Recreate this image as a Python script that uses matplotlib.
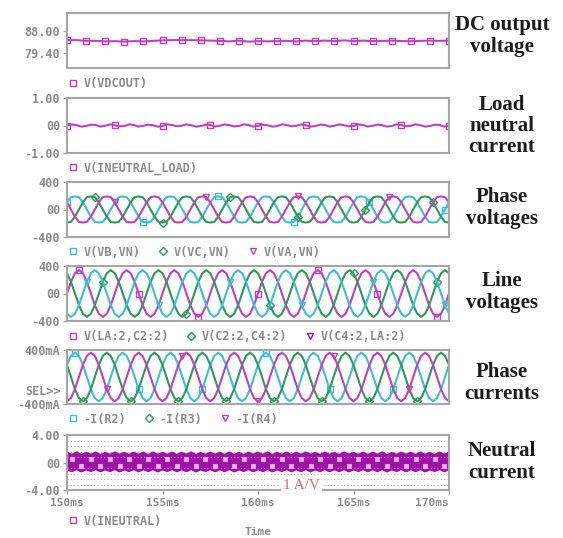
import numpy as np
import matplotlib
matplotlib.use("Agg")
import matplotlib.pyplot as plt
from matplotlib.lines import Line2D

plt.rcParams['font.family'] = 'DejaVu Sans Mono'
plt.rcParams['font.weight'] = 'bold'

# ---- data ----
t_wave = np.linspace(150, 170, 97)   # ms, 12 samples per 400 Hz period
t_fine = np.linspace(150, 170, 81)   # ms, 0.25 ms step
t_dc = np.linspace(150, 170, 41)     # ms, 0.5 ms step

dc_vout = [84.4, 84.4, 84.1, 84.1, 83.9, 84.0, 83.8, 84.0, 83.9, 84.1,
           84.3, 84.4, 84.4, 84.4, 84.3, 84.2, 84.1, 83.9, 84.2, 83.8,
           84.0, 83.9, 84.0, 84.1, 83.9, 84.2, 84.0, 84.2, 84.0, 84.3,
           84.0, 84.2, 84.0, 84.1, 84.2, 84.0, 84.0, 84.1, 84.2, 84.1,
           84.2]

load_neutral = [0.00, 0.04, 0.01, -0.04, -0.02, 0.03, 0.02, -0.04, -0.01, 0.04,
                0.01, -0.03, -0.02, 0.04, 0.02, -0.04, -0.01, 0.03, 0.01, -0.04,
                -0.02, 0.04, 0.02, -0.03, -0.01, 0.04, 0.01, -0.04, -0.02, 0.03,
                0.02, -0.04, -0.01, 0.04, 0.01, -0.03, -0.02, 0.04, 0.02, -0.04,
                -0.01, 0.03, 0.01, -0.04, -0.02, 0.04, 0.02, -0.03, -0.01, 0.04,
                0.01, -0.04, -0.02, 0.03, 0.02, -0.04, -0.01, 0.04, 0.01, -0.03,
                -0.02, 0.04, 0.02, -0.04, -0.01, 0.03, 0.01, -0.04, -0.02, 0.04,
                0.02, -0.03, -0.01, 0.04, 0.01, -0.04, -0.02, 0.03, 0.02, -0.04,
                0.00]

# phase voltages (V)
v_phase_1 = [105, 180, 190, 180, 105, 0, -105, -180, -190, -180, -105, 0,
             105, 180, 190, 180, 105, 0, -105, -180, -190, -180, -105, 0,
             105, 180, 190, 180, 105, 0, -105, -180, -190, -180, -105, 0,
             105, 180, 190, 180, 105, 0, -105, -180, -190, -180, -105, 0,
             105, 180, 190, 180, 105, 0, -105, -180, -190, -180, -105, 0,
             105, 180, 190, 180, 105, 0, -105, -180, -190, -180, -105, 0,
             105, 180, 190, 180, 105, 0, -105, -180, -190, -180, -105, 0,
             105, 180, 190, 180, 105, 0, -105, -180, -190, -180, -105, 0,
             105]
v_phase_2 = [-190, -180, -105, 0, 105, 180, 190, 180, 105, 0, -105, -180,
             -190, -180, -105, 0, 105, 180, 190, 180, 105, 0, -105, -180,
             -190, -180, -105, 0, 105, 180, 190, 180, 105, 0, -105, -180,
             -190, -180, -105, 0, 105, 180, 190, 180, 105, 0, -105, -180,
             -190, -180, -105, 0, 105, 180, 190, 180, 105, 0, -105, -180,
             -190, -180, -105, 0, 105, 180, 190, 180, 105, 0, -105, -180,
             -190, -180, -105, 0, 105, 180, 190, 180, 105, 0, -105, -180,
             -190, -180, -105, 0, 105, 180, 190, 180, 105, 0, -105, -180,
             -190]
v_phase_3 = [105, 0, -105, -180, -190, -180, -105, 0, 105, 180, 190, 180,
             105, 0, -105, -180, -190, -180, -105, 0, 105, 180, 190, 180,
             105, 0, -105, -180, -190, -180, -105, 0, 105, 180, 190, 180,
             105, 0, -105, -180, -190, -180, -105, 0, 105, 180, 190, 180,
             105, 0, -105, -180, -190, -180, -105, 0, 105, 180, 190, 180,
             105, 0, -105, -180, -190, -180, -105, 0, 105, 180, 190, 180,
             105, 0, -105, -180, -190, -180, -105, 0, 105, 180, 190, 180,
             105, 0, -105, -180, -190, -180, -105, 0, 105, 180, 190, 180,
             105]

# line voltages (V)
v_line_1 = [0, 170, 294, 340, 294, 170, 0, -170, -294, -340, -294, -170,
            0, 170, 294, 340, 294, 170, 0, -170, -294, -340, -294, -170,
            0, 170, 294, 340, 294, 170, 0, -170, -294, -340, -294, -170,
            0, 170, 294, 340, 294, 170, 0, -170, -294, -340, -294, -170,
            0, 170, 294, 340, 294, 170, 0, -170, -294, -340, -294, -170,
            0, 170, 294, 340, 294, 170, 0, -170, -294, -340, -294, -170,
            0, 170, 294, 340, 294, 170, 0, -170, -294, -340, -294, -170,
            0, 170, 294, 340, 294, 170, 0, -170, -294, -340, -294, -170,
            0]
v_line_2 = [294, 170, 0, -170, -294, -340, -294, -170, 0, 170, 294, 340,
            294, 170, 0, -170, -294, -340, -294, -170, 0, 170, 294, 340,
            294, 170, 0, -170, -294, -340, -294, -170, 0, 170, 294, 340,
            294, 170, 0, -170, -294, -340, -294, -170, 0, 170, 294, 340,
            294, 170, 0, -170, -294, -340, -294, -170, 0, 170, 294, 340,
            294, 170, 0, -170, -294, -340, -294, -170, 0, 170, 294, 340,
            294, 170, 0, -170, -294, -340, -294, -170, 0, 170, 294, 340,
            294, 170, 0, -170, -294, -340, -294, -170, 0, 170, 294, 340,
            294]
v_line_3 = [-294, -340, -294, -170, 0, 170, 294, 340, 294, 170, 0, -170,
            -294, -340, -294, -170, 0, 170, 294, 340, 294, 170, 0, -170,
            -294, -340, -294, -170, 0, 170, 294, 340, 294, 170, 0, -170,
            -294, -340, -294, -170, 0, 170, 294, 340, 294, 170, 0, -170,
            -294, -340, -294, -170, 0, 170, 294, 340, 294, 170, 0, -170,
            -294, -340, -294, -170, 0, 170, 294, 340, 294, 170, 0, -170,
            -294, -340, -294, -170, 0, 170, 294, 340, 294, 170, 0, -170,
            -294, -340, -294, -170, 0, 170, 294, 340, 294, 170, 0, -170,
            -294]

# phase currents (mA)
i_r2 = [180, 312, 360, 312, 180, 0, -180, -312, -360, -312, -180, 0,
        180, 312, 360, 312, 180, 0, -180, -312, -360, -312, -180, 0,
        180, 312, 360, 312, 180, 0, -180, -312, -360, -312, -180, 0,
        180, 312, 360, 312, 180, 0, -180, -312, -360, -312, -180, 0,
        180, 312, 360, 312, 180, 0, -180, -312, -360, -312, -180, 0,
        180, 312, 360, 312, 180, 0, -180, -312, -360, -312, -180, 0,
        180, 312, 360, 312, 180, 0, -180, -312, -360, -312, -180, 0,
        180, 312, 360, 312, 180, 0, -180, -312, -360, -312, -180, 0,
        180]
i_r3 = [180, 0, -180, -312, -360, -312, -180, 0, 180, 312, 360, 312,
        180, 0, -180, -312, -360, -312, -180, 0, 180, 312, 360, 312,
        180, 0, -180, -312, -360, -312, -180, 0, 180, 312, 360, 312,
        180, 0, -180, -312, -360, -312, -180, 0, 180, 312, 360, 312,
        180, 0, -180, -312, -360, -312, -180, 0, 180, 312, 360, 312,
        180, 0, -180, -312, -360, -312, -180, 0, 180, 312, 360, 312,
        180, 0, -180, -312, -360, -312, -180, 0, 180, 312, 360, 312,
        180, 0, -180, -312, -360, -312, -180, 0, 180, 312, 360, 312,
        180]
i_r4 = [-360, -312, -180, 0, 180, 312, 360, 312, 180, 0, -180, -312,
        -360, -312, -180, 0, 180, 312, 360, 312, 180, 0, -180, -312,
        -360, -312, -180, 0, 180, 312, 360, 312, 180, 0, -180, -312,
        -360, -312, -180, 0, 180, 312, 360, 312, 180, 0, -180, -312,
        -360, -312, -180, 0, 180, 312, 360, 312, 180, 0, -180, -312,
        -360, -312, -180, 0, 180, 312, 360, 312, 180, 0, -180, -312,
        -360, -312, -180, 0, 180, 312, 360, 312, 180, 0, -180, -312,
        -360, -312, -180, 0, 180, 312, 360, 312, 180, 0, -180, -312,
        -360]

# neutral current band (envelope of the fast ripple)
neutral_hi = [1.42, 1.12, 1.46, 1.10, 1.40, 1.14, 1.44, 1.08, 1.42, 1.12,
              1.46, 1.14, 1.40, 1.10, 1.44, 1.12, 1.42, 1.08, 1.46, 1.14,
              1.40, 1.12, 1.44, 1.10, 1.42, 1.14, 1.46, 1.08, 1.40, 1.12,
              1.44, 1.14, 1.42, 1.10, 1.46, 1.12, 1.40, 1.08, 1.44, 1.14,
              1.42, 1.12, 1.46, 1.10, 1.40, 1.14, 1.44, 1.08, 1.42, 1.12,
              1.46, 1.14, 1.40, 1.10, 1.44, 1.12, 1.42, 1.08, 1.46, 1.14,
              1.40, 1.12, 1.44, 1.10, 1.42, 1.14, 1.46, 1.08, 1.40, 1.12,
              1.44, 1.14, 1.42, 1.10, 1.46, 1.12, 1.40, 1.08, 1.44, 1.14,
              1.42]
neutral_lo = [-0.98, -1.26, -0.95, -1.30, -1.00, -1.24, -0.96, -1.28, -0.98, -1.26,
              -0.95, -1.30, -1.00, -1.24, -0.96, -1.28, -0.98, -1.26, -0.95, -1.30,
              -1.00, -1.24, -0.96, -1.28, -0.98, -1.26, -0.95, -1.30, -1.00, -1.24,
              -0.96, -1.28, -0.98, -1.26, -0.95, -1.30, -1.00, -1.24, -0.96, -1.28,
              -0.98, -1.26, -0.95, -1.30, -1.00, -1.24, -0.96, -1.28, -0.98, -1.26,
              -0.95, -1.30, -1.00, -1.24, -0.96, -1.28, -0.98, -1.26, -0.95, -1.30,
              -1.00, -1.24, -0.96, -1.28, -0.98, -1.26, -0.95, -1.30, -1.00, -1.24,
              -0.96, -1.28, -0.98, -1.26, -0.95, -1.30, -1.00, -1.24, -0.96, -1.28,
              -0.98]
spot_t = np.arange(150.25, 170.0, 0.5)
spot_v = [0.55, -0.45, 0.55, -0.45, 0.55, -0.45, 0.55, -0.45, 0.55, -0.45,
          0.55, -0.45, 0.55, -0.45, 0.55, -0.45, 0.55, -0.45, 0.55, -0.45,
          0.55, -0.45, 0.55, -0.45, 0.55, -0.45, 0.55, -0.45, 0.55, -0.45,
          0.55, -0.45, 0.55, -0.45, 0.55, -0.45, 0.55, -0.45, 0.55, -0.45]

x_ticks = [150, 155, 160, 165, 170]
x_tick_labels = ['150ms', '155ms', '160ms', '165ms', '170ms']

panel_titles = ['DC output\nvoltage', 'Load\nneutral\ncurrent', 'Phase\nvoltages',
                'Line\nvoltages', 'Phase\ncurrents', 'Neutral\ncurrent']

# ---- style ----
CYAN = '#3dbfcf'
GREEN = '#2e9a5a'
MAGENTA = '#c23fc0'
PURPLE = '#a010a8'
TXT = '#8c8c8c'
SPINE = '#a6a6a6'

W, H = 563, 538
X0, X1 = 67, 449
panels_px = [(13, 68), (98, 153), (182, 237), (266, 321), (350, 404), (435, 490)]
title_y = [36, 126, 208, 292, 383, 462]
legend_y = [84, 168, 252, 337, 419, 521]

fig = plt.figure(figsize=(W / 100, H / 100), dpi=100)
axes = []
for top, bot in panels_px:
    ax = fig.add_axes([X0 / W, 1 - bot / H, (X1 - X0) / W, (bot - top) / H])
    ax.set_xlim(150, 170)
    for s in ax.spines.values():
        s.set_color(SPINE)
        s.set_linewidth(1.5)
    ax.tick_params(axis='y', direction='out', length=3, width=1, color=SPINE,
                   pad=2, labelsize=8.5, labelcolor=TXT)
    ax.tick_params(axis='x', bottom=False, labelbottom=False)
    axes.append(ax)


def legend(ax, i, entries):
    handles = [Line2D([], [], ls='None', marker=m, mec=c, mfc='none', ms=4.5, mew=1)
               for m, c, _ in entries]
    labels = [lab for _, _, lab in entries]
    top, bot = panels_px[i]
    ax.legend(handles, labels, loc='center left',
              bbox_to_anchor=(0, (bot - legend_y[i]) / (bot - top)),
              ncol=len(entries), frameon=False, borderpad=0, borderaxespad=0,
              handlelength=1.0, handletextpad=0.4, columnspacing=1.4,
              prop={'family': 'DejaVu Sans Mono', 'weight': 'bold', 'size': 8.5},
              labelcolor=TXT)


mk = dict(mfc='none', ms=4.5, mew=1)
LW = 1.5

# 1 DC output voltage
ax = axes[0]
ax.plot(t_dc, dc_vout, color=MAGENTA, lw=LW, marker='s', markevery=2, mec=MAGENTA, **mk)
ax.set_ylim(73.5, 95.0)
ax.set_yticks([88.0, 79.4], ['88.00', '79.40'])
legend(ax, 0, [('s', MAGENTA, 'V(VDCOUT)')])

# 2 load neutral current
ax = axes[1]
ax.plot(t_fine, load_neutral, color=MAGENTA, lw=LW, marker='s', markevery=(0, 10), mec=MAGENTA, **mk)
ax.set_ylim(-1, 1)
ax.set_yticks([1, 0, -1], ['1.00', '00', '-1.00'])
legend(ax, 1, [('s', MAGENTA, 'V(INEUTRAL_LOAD)')])

# 3 phase voltages
ax = axes[2]
ax.plot(t_wave, v_phase_1, color=CYAN, lw=LW, marker='s', markevery=(0, 19), mec=CYAN, **mk)
ax.plot(t_wave, v_phase_2, color=GREEN, lw=LW, marker='D', markevery=(7, 17), mec=GREEN, **mk)
ax.plot(t_wave, v_phase_3, color=MAGENTA, lw=LW, marker='v', markevery=(12, 23), mec=MAGENTA, **mk)
ax.set_ylim(-400, 400)
ax.set_yticks([400, 0, -400], ['400', '00', '-400'])
legend(ax, 2, [('s', CYAN, 'V(VB,VN)'), ('D', GREEN, 'V(VC,VN)'), ('v', MAGENTA, 'V(VA,VN)')])

# 4 line voltages
ax = axes[3]
ax.plot(t_wave, v_line_1, color=MAGENTA, lw=LW, marker='s', markevery=(3, 15), mec=MAGENTA, **mk)
ax.plot(t_wave, v_line_2, color=GREEN, lw=LW, marker='D', markevery=(9, 21), mec=GREEN, **mk)
ax.plot(t_wave, v_line_3, color=CYAN, lw=LW, marker='v', markevery=(5, 18), mec=CYAN, **mk)
ax.set_ylim(-400, 400)
ax.set_yticks([400, 0, -400], ['400', '00', '-400'])
legend(ax, 3, [('s', MAGENTA, 'V(LA:2,C2:2)'), ('D', GREEN, 'V(C2:2,C4:2)'),
               ('v', PURPLE, 'V(C4:2,LA:2)')])

# 5 phase currents
ax = axes[4]
ax.plot(t_wave, i_r2, color=CYAN, lw=LW, marker='s', markevery=(2, 16), mec=CYAN, **mk)
ax.plot(t_wave, i_r3, color=GREEN, lw=LW, marker='D', markevery=(4, 12), mec=GREEN, **mk)
ax.plot(t_wave, i_r4, color=MAGENTA, lw=LW, marker='v', markevery=(10, 19), mec=MAGENTA, **mk)
ax.set_ylim(-400, 400)
ax.set_yticks([400, -400], ['400mA', '-400mA'])
ax.text(-0.015, 0.24, 'SEL>>', transform=ax.transAxes, ha='right', va='center',
        fontsize=8.5, color=TXT)
legend(ax, 4, [('s', CYAN, '-I(R2)'), ('D', GREEN, '-I(R3)'), ('v', MAGENTA, '-I(R4)')])

# 6 neutral current
ax = axes[5]
ax.set_ylim(-4, 4)
ax.set_yticks([4, 0, -4], ['4.00', '00', '-4.00'])
ax.set_yticks(np.arange(-3.2, 3.3, 0.8), minor=True)
ax.tick_params(axis='y', which='minor', length=0)
ax.grid(axis='y', which='minor', color='#b0b0b0', lw=0.8, ls=(0, (1, 2)))
ax.fill_between(t_fine, neutral_lo, neutral_hi, color=PURPLE, lw=0)
ax.plot(t_fine, neutral_hi, color=PURPLE, lw=1.5)
ax.plot(t_fine, neutral_lo, color=PURPLE, lw=1.5)
ax.plot(spot_t, spot_v, ls='None', marker='s', ms=3.5, mfc='#f4c4f4', mec='#e8a0ec', mew=0.8)
ax.tick_params(axis='x', bottom=True, labelbottom=True, direction='out', length=3,
               width=1, color=SPINE, pad=3, labelsize=8, labelcolor=TXT)
ax.set_xticks(x_ticks, x_tick_labels)
ax.get_xticklabels()[-1].set_horizontalalignment('right')
ax.text(0.613, 0.09, '1 A/V', transform=ax.transAxes, ha='center', va='center',
        family='Liberation Serif', weight='normal', fontsize=11, color='#e06a6a',
        zorder=10, clip_on=False,
        bbox=dict(facecolor='white', edgecolor='none', pad=1.5))
legend(ax, 5, [('s', MAGENTA, 'V(INEUTRAL)')])

fig.text(258 / W, 1 - 532 / H, 'Time', ha='center', va='center', fontsize=8, color=TXT)

for title, ty in zip(panel_titles, title_y):
    fig.text(502 / W, 1 - ty / H, title, ha='center', va='center',
             family='Liberation Serif', weight='bold', fontsize=15,
             color='#1c1c1c', linespacing=1.1)

fig.savefig('out.png', dpi=100)
